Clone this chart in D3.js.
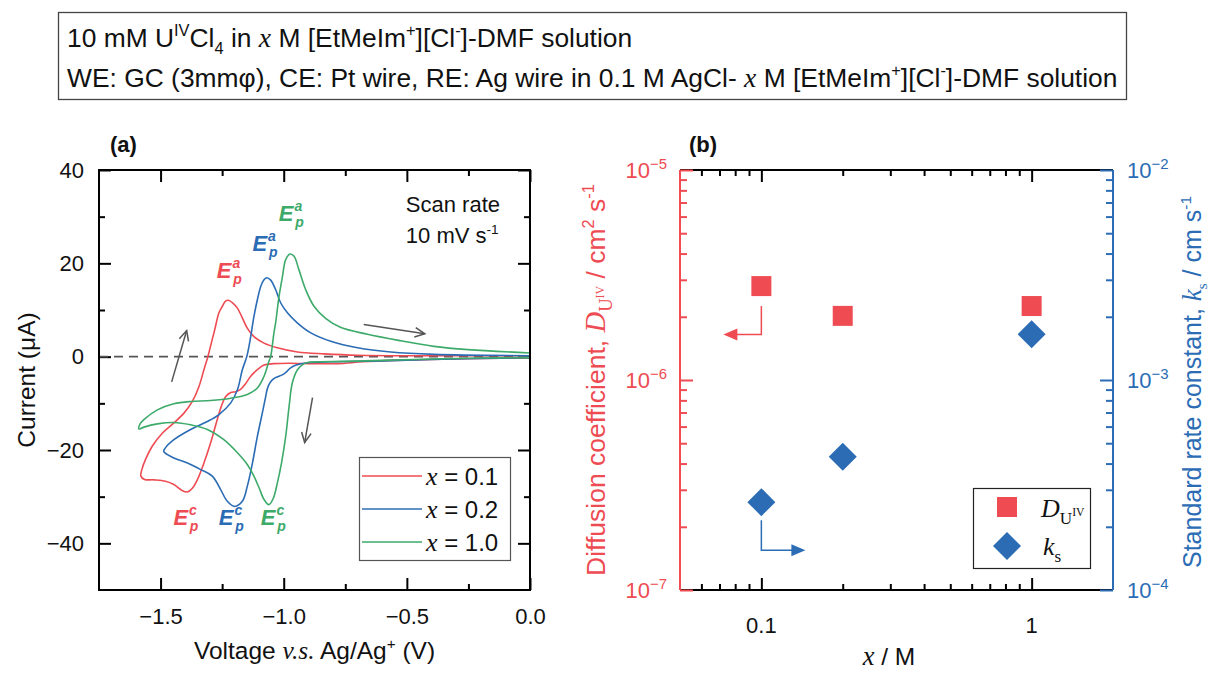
<!DOCTYPE html>
<html><head><meta charset="utf-8">
<script src="https://cdn.jsdelivr.net/npm/d3@7"></script>
<style>
body{margin:0;background:#fff;}
svg text{font-family:"Liberation Sans",Arial,sans-serif;white-space:pre;}
</style></head><body>
<svg id="chart" width="1209" height="673"></svg>
<script>
// ---------------- DATA ----------------
// Panel (a): cyclic voltammograms, pairs of [voltage (V), current (µA)] in scan order
const cvX01 = [
[0.00,-0.3],[-0.20,-0.4],[-0.40,-0.6],[-0.55,-0.8],[-0.68,-1.1],[-0.78,-1.5],[-0.88,-1.5],[-0.98,-1.4],[-1.04,-1.5],[-1.08,-1.8],
[-1.107,-2.8],[-1.134,-4.2],[-1.155,-5.8],[-1.175,-7.0],[-1.195,-7.5],[-1.215,-7.7],[-1.236,-8.6],[-1.253,-10.6],[-1.270,-13.5],
[-1.297,-18.5],[-1.324,-22.8],[-1.351,-26.4],[-1.371,-28.2],[-1.391,-29.0],[-1.412,-28.7],[-1.446,-27.4],[-1.480,-26.7],[-1.527,-26.4],
[-1.565,-26.3],[-1.580,-25.6],[-1.576,-24.2],[-1.561,-22.0],[-1.534,-19.2],[-1.493,-16.4],[-1.446,-14.2],[-1.405,-12.1],[-1.371,-9.6],
[-1.344,-6.4],[-1.324,-2.8],[-1.308,0.0],[-1.294,2.9],[-1.280,5.8],[-1.263,9.4],[-1.249,10.8],[-1.236,11.9],[-1.225,12.1],[-1.209,11.6],
[-1.188,10.4],[-1.168,8.3],[-1.148,6.1],[-1.121,4.3],[-1.080,2.9],[-1.026,1.9],[-0.944,1.0],[-0.836,0.6],[-0.700,0.3],[-0.400,0.2],[0.00,0.2]
];
const cvX02 = [
[0.00,-0.2],[-0.20,-0.4],[-0.40,-0.6],[-0.60,-0.9],[-0.80,-1.1],[-0.90,-1.3],[-0.95,-1.8],[-0.972,-2.4],[-0.990,-3.3],[-1.006,-3.9],
[-1.025,-4.3],[-1.040,-4.7],[-1.052,-5.3],[-1.060,-6.0],[-1.067,-7.0],[-1.073,-8.5],[-1.087,-12.1],[-1.107,-17.1],[-1.127,-22.8],
[-1.148,-27.8],[-1.168,-31.0],[-1.199,-32.1],[-1.229,-31.0],[-1.256,-28.5],[-1.290,-25.6],[-1.337,-24.2],[-1.391,-22.8],[-1.446,-21.7],
[-1.487,-20.3],[-1.481,-19.6],[-1.446,-17.8],[-1.378,-15.6],[-1.310,-13.9],[-1.263,-12.4],[-1.215,-9.9],[-1.188,-7.1],[-1.168,-2.8],
[-1.150,0.0],[-1.134,4.3],[-1.121,8.6],[-1.107,12.2],[-1.093,15.1],[-1.080,16.5],[-1.069,16.9],[-1.053,16.4],[-1.033,14.4],[-1.012,11.5],
[-0.985,9.4],[-0.944,7.2],[-0.890,5.1],[-0.809,3.3],[-0.700,1.9],[-0.565,1.0],[-0.390,0.5],[0.00,0.2]
];
const cvX10 = [
[0.00,-0.2],[-0.20,-0.3],[-0.40,-0.5],[-0.60,-0.8],[-0.75,-1.0],[-0.85,-1.1],[-0.90,-1.2],[-0.917,-1.5],[-0.944,-2.8],[-0.965,-5.6],
[-0.978,-10.6],[-0.992,-17.1],[-1.009,-22.8],[-1.026,-27.1],[-1.042,-30.3],[-1.060,-31.7],[-1.080,-30.6],[-1.100,-28.1],[-1.121,-25.6],
[-1.148,-23.1],[-1.188,-20.6],[-1.243,-17.8],[-1.310,-15.6],[-1.378,-14.6],[-1.446,-14.1],[-1.513,-14.4],[-1.568,-15.1],[-1.588,-15.5],
[-1.582,-14.3],[-1.568,-13.5],[-1.513,-11.4],[-1.446,-10.1],[-1.378,-9.6],[-1.297,-9.4],[-1.215,-8.9],[-1.148,-8.1],[-1.107,-6.7],
[-1.080,-4.2],[-1.060,-1.0],[-1.053,0.0],[-1.040,5.0],[-1.033,7.2],[-1.019,12.9],[-1.005,17.2],[-0.992,20.8],[-0.974,22.0],[-0.958,21.5],
[-0.938,18.6],[-0.911,14.4],[-0.877,10.8],[-0.830,8.2],[-0.770,6.3],[-0.660,4.8],[-0.524,3.4],[-0.390,2.2],[-0.252,1.5],[0.00,0.8]
];
const cvSeries = ["0.1", "0.2", "1.0"];
const cvColors = ["#ee4b52", "#2b6cb5", "#3daa6a"];
const cvXTicks = [-1.5, -1.0, -0.5, 0.0];
const cvXMinor = [-1.25, -0.75, -0.25];
const cvYTicks = [-40, -20, 0, 20, 40];
const cvYMinor = [-30, -10, 10, 30];

// Panel (b)
const concentration = [0.1, 0.2, 1.0];
const diffusionCoef = [2.8e-6, 2.02e-6, 2.25e-6];   // cm2 s-1
const rateConstant = [2.62e-4, 4.31e-4, 1.65e-3];   // cm s-1
const bXTicks = [0.1, 1];
const bXLabels = ["0.1", "1"];
const bXMinor = [0.06, 0.07, 0.08, 0.09, 0.2, 0.3, 0.4, 0.5, 0.6, 0.7, 0.8, 0.9];
const dTicks = [1e-7, 1e-6, 1e-5];
const dLabels = ["\u22127", "\u22126", "\u22125"];
const kTicks = [1e-4, 1e-3, 1e-2];
const kLabels = ["\u22124", "\u22123", "\u22122"];

// ---------------- DRAWING ----------------
const SANS = '"Liberation Sans",Arial,sans-serif';
const SERIF = '"Liberation Serif","Times New Roman",serif';
const RED = cvColors[0], BLUE = cvColors[1], GREEN = cvColors[2];
const TICK_FS = 22, TITLE_FS = 24.5;
const svg = d3.select("#chart");

function rich(textSel, segs, fs) {
  let cur = 0;
  segs.forEach(s => {
    const size = (s.size || 1) * fs;
    const off = (s.off || 0) * fs;
    const ts = textSel.append("tspan").text(s.t).attr("font-size", size).attr("dy", off - cur);
    cur = off;
    if (s.dx) ts.attr("dx", s.dx);
    if (s.it) ts.attr("font-style", "italic");
    if (s.serif || s.it) ts.attr("font-family", SERIF);
  });
  return textSel;
}

// Header box
svg.append("rect").attr("x", 58.5).attr("y", 12.5).attr("width", 1068).attr("height", 87)
  .attr("fill", "none").attr("stroke", "#444").attr("stroke-width", 1.3);
rich(svg.append("text").attr("x", 67).attr("y", 47).attr("fill", "#111"), [
  {t:"10 mM U"},{t:"IV",size:.62,off:-.42},{t:"Cl"},{t:"4",size:.62,off:.25},{t:" in "},{t:"x",it:1,size:1.05},
  {t:" M [EtMeIm"},{t:"+",size:.62,off:-.42},{t:"][Cl"},{t:"-",size:.62,off:-.42},{t:"]-DMF solution"}], 26.4);
rich(svg.append("text").attr("x", 67).attr("y", 87).attr("fill", "#111"), [
  {t:"WE: GC (3mm\u03c6), CE: Pt wire, RE: Ag wire in 0.1 M AgCl- "},{t:"x",it:1,size:1.05},
  {t:" M [EtMeIm"},{t:"+",size:.62,off:-.42},{t:"][Cl"},{t:"-",size:.62,off:-.42},{t:"]-DMF solution"}], 26.4);

// ===== Panel (a) =====
const A = {l: 99, r: 530, t: 170, b: 590};
const x = d3.scaleLinear().domain([-1.75, 0]).range([A.l, A.r]);
const y = d3.scaleLinear().domain([-50, 40]).range([A.b, A.t]);
const fmtX = d3.format(".1f");

function tickAxis(g, axis) { g.call(axis); g.select(".domain").remove(); g.selectAll("line").attr("stroke", "#000").attr("stroke-width", 2); }

const ga = svg.append("g");
tickAxis(ga.append("g").attr("transform", `translate(0,${A.b})`),
  d3.axisBottom(x).tickValues(cvXTicks).tickSizeInner(-12).tickSizeOuter(0).tickPadding(18).tickFormat(fmtX));
tickAxis(ga.append("g").attr("transform", `translate(0,${A.b})`),
  d3.axisBottom(x).tickValues(cvXMinor).tickSizeInner(-6).tickSizeOuter(0).tickFormat(""));
tickAxis(ga.append("g").attr("transform", `translate(0,${A.t})`),
  d3.axisTop(x).tickValues(cvXTicks).tickSizeInner(-12).tickSizeOuter(0).tickFormat(""));
tickAxis(ga.append("g").attr("transform", `translate(0,${A.t})`),
  d3.axisTop(x).tickValues(cvXMinor).tickSizeInner(-6).tickSizeOuter(0).tickFormat(""));
tickAxis(ga.append("g").attr("transform", `translate(${A.l},0)`),
  d3.axisLeft(y).tickValues(cvYTicks).tickSizeInner(-12).tickSizeOuter(0).tickPadding(15).tickFormat(d3.format("d")));
tickAxis(ga.append("g").attr("transform", `translate(${A.l},0)`),
  d3.axisLeft(y).tickValues(cvYMinor).tickSizeInner(-6).tickSizeOuter(0).tickFormat(""));
tickAxis(ga.append("g").attr("transform", `translate(${A.r},0)`),
  d3.axisRight(y).tickValues(cvYTicks).tickSizeInner(-12).tickSizeOuter(0).tickFormat(""));
tickAxis(ga.append("g").attr("transform", `translate(${A.r},0)`),
  d3.axisRight(y).tickValues(cvYMinor).tickSizeInner(-6).tickSizeOuter(0).tickFormat(""));
ga.selectAll(".tick text").attr("font-size", TICK_FS).attr("font-family", SANS).attr("fill", "#111");

// zero dashed line
ga.append("line").attr("x1", A.l).attr("x2", A.r).attr("y1", y(0)).attr("y2", y(0))
  .attr("stroke", "#555").attr("stroke-width", 1.6).attr("stroke-dasharray", "9,6");

// curves
const line = d3.line().x(d => x(d[0])).y(d => y(d[1])).curve(d3.curveCatmullRom.alpha(0.5));
const cvData = [cvX01, cvX02, cvX10];
cvData.forEach((d, i) => {
  ga.append("path").datum(d).attr("d", line).attr("fill", "none")
    .attr("stroke", cvColors[i]).attr("stroke-width", 1.6).attr("stroke-linejoin", "round");
});

// frame
ga.append("rect").attr("x", A.l).attr("y", A.t).attr("width", A.r - A.l).attr("height", A.b - A.t)
  .attr("fill", "none").attr("stroke", "#000").attr("stroke-width", 2);

// gray scan arrows (in data coordinates)
function openArrow(g, v1, i1, v2, i2) {
  const x1 = x(v1), y1 = y(i1), x2 = x(v2), y2 = y(i2);
  const ang = Math.atan2(y2 - y1, x2 - x1), L = 11, w = 0.45;
  g.append("line").attr("x1", x1).attr("y1", y1).attr("x2", x2).attr("y2", y2);
  g.append("path").attr("fill", "none").attr("d",
    `M${x2 - L*Math.cos(ang - w)},${y2 - L*Math.sin(ang - w)}L${x2},${y2}L${x2 - L*Math.cos(ang + w)},${y2 - L*Math.sin(ang + w)}`);
}
const arr = ga.append("g").attr("stroke", "#555").attr("stroke-width", 1.5);
openArrow(arr, -1.455, -5.4, -1.394, 5.6);
openArrow(arr, -0.675, 6.9, -0.427, 4.9);
openArrow(arr, -0.883, -8.8, -0.915, -18.4);

// peak labels: E with stacked superscript (a / c) and subscript p, as one text element
function epLabel(v, i, sup, color) {
  const t = ga.append("text").attr("x", x(v)).attr("y", y(i)).attr("fill", color)
    .attr("font-family", SERIF).attr("font-style", "italic").attr("font-weight", "bold").attr("font-size", 22);
  t.append("tspan").text("E");
  t.append("tspan").text(sup).attr("font-size", 14).attr("dx", 1).attr("dy", -10);
  t.append("tspan").text("p").attr("font-size", 14).attr("dx", -7).attr("dy", 16);
}
epLabel(-1.272, 16.9, "a", RED);
epLabel(-1.127, 22.6, "a", BLUE);
epLabel(-1.020, 29.0, "a", GREEN);
epLabel(-1.448, -36.0, "c", RED);
epLabel(-1.264, -36.0, "c", BLUE);
epLabel(-1.093, -36.0, "c", GREEN);

// scan rate text
ga.append("text").attr("x", x(-0.504)).attr("y", y(31.1)).attr("font-size", 22).attr("fill", "#111").text("Scan rate");
rich(ga.append("text").attr("x", x(-0.504)).attr("y", y(24.4)).attr("fill", "#111"),
  [{t:"10 mV s"},{t:"-1",size:.62,off:-.42}], 22);

// legend (a)
const lg = ga.append("g");
lg.append("rect").attr("x", 359.5).attr("y", 457.5).attr("width", 151).attr("height", 103)
  .attr("fill", "#fff").attr("stroke", "#555").attr("stroke-width", 1.2);
cvSeries.forEach((s, i) => {
  const yy = 476 + i * 33;
  lg.append("line").attr("x1", 362).attr("x2", 422).attr("y1", yy).attr("y2", yy).attr("stroke", cvColors[i]).attr("stroke-width", 1.6);
  rich(lg.append("text").attr("x", 426).attr("y", yy + 9).attr("fill", "#111"),
    [{t:"x",it:1,size:1.08},{t:" = " + s}], 24);
});

// axis titles (a)
rich(svg.append("text").attr("text-anchor", "middle").attr("transform", `translate(35,${(A.t + A.b) / 2}) rotate(-90)`).attr("fill", "#111"),
  [{t:"Current (\u03bcA)"}], TITLE_FS);
rich(svg.append("text").attr("text-anchor", "middle").attr("x", (A.l + A.r) / 2).attr("y", 659).attr("fill", "#111"),
  [{t:"Voltage "},{t:"v.s.",it:1,size:1.04},{t:" Ag/Ag"},{t:"+",size:.62,off:-.42},{t:" (V)",off:0}], TITLE_FS);
svg.append("text").attr("x", 110).attr("y", 152).attr("font-size", 22).attr("font-weight", "bold").attr("fill", "#111").text("(a)");

// ===== Panel (b) =====
const B = {l: 680, r: 1113, t: 170, b: 590};
const xb = d3.scaleLog().domain([0.05, 2]).range([B.l, B.r]);
const yD = d3.scaleLog().domain([1e-7, 1e-5]).range([B.b, B.t]);
const yK = d3.scaleLog().domain([1e-4, 1e-2]).range([B.b, B.t]);
const minorOf = ticks => ticks.slice(0, -1).flatMap(t => d3.range(2, 10).map(k => k * t));

const gb = svg.append("g");
gb.append("line").attr("x1", B.l).attr("x2", B.r).attr("y1", B.t).attr("y2", B.t).attr("stroke", "#000").attr("stroke-width", 2);
gb.append("line").attr("x1", B.l).attr("x2", B.r).attr("y1", B.b).attr("y2", B.b).attr("stroke", "#000").attr("stroke-width", 2);
[[B.b, d3.axisBottom], [B.t, d3.axisTop]].forEach(([yy, ax]) => {
  tickAxis(gb.append("g").attr("transform", `translate(0,${yy})`), ax(xb).tickValues(bXTicks).tickSizeInner(-12).tickSizeOuter(0).tickFormat(""));
  tickAxis(gb.append("g").attr("transform", `translate(0,${yy})`), ax(xb).tickValues(bXMinor).tickSizeInner(-6).tickSizeOuter(0).tickFormat(""));
});
bXTicks.forEach((t, i) => gb.append("text").attr("x", xb(t)).attr("y", 633).attr("text-anchor", "middle")
  .attr("font-size", TICK_FS).attr("fill", "#111").text(bXLabels[i]));

function colorAxis(g, color) { g.select(".domain").remove(); g.selectAll("line").attr("stroke", color).attr("stroke-width", 2); }
// left (red)
gb.append("line").attr("x1", B.l).attr("x2", B.l).attr("y1", B.t).attr("y2", B.b).attr("stroke", RED).attr("stroke-width", 2);
colorAxis(gb.append("g").attr("transform", `translate(${B.l},0)`).call(d3.axisLeft(yD).tickValues(dTicks).tickSizeInner(-13).tickSizeOuter(0).tickFormat("")), RED);
colorAxis(gb.append("g").attr("transform", `translate(${B.l},0)`).call(d3.axisLeft(yD).tickValues(minorOf(dTicks)).tickSizeInner(-7).tickSizeOuter(0).tickFormat("")), RED);
dTicks.forEach((t, i) => rich(gb.append("text").attr("x", 667).attr("y", yD(t) + 8).attr("text-anchor", "end").attr("fill", RED),
  [{t:"10"},{t:dLabels[i],size:.68,off:-.42}], TICK_FS));
// right (blue)
gb.append("line").attr("x1", B.r).attr("x2", B.r).attr("y1", B.t).attr("y2", B.b).attr("stroke", BLUE).attr("stroke-width", 2);
colorAxis(gb.append("g").attr("transform", `translate(${B.r},0)`).call(d3.axisRight(yK).tickValues(kTicks).tickSizeInner(-13).tickSizeOuter(0).tickFormat("")), BLUE);
colorAxis(gb.append("g").attr("transform", `translate(${B.r},0)`).call(d3.axisRight(yK).tickValues(minorOf(kTicks)).tickSizeInner(-7).tickSizeOuter(0).tickFormat("")), BLUE);
kTicks.forEach((t, i) => rich(gb.append("text").attr("x", 1127).attr("y", yK(t) + 8).attr("fill", BLUE),
  [{t:"10"},{t:kLabels[i],size:.68,off:-.42}], TICK_FS));

// markers
const sq = d3.symbol(d3.symbolSquare, 400);
const dia = d3.symbol(d3.symbolSquare, 392);
concentration.forEach((c, i) => {
  gb.append("path").attr("d", sq).attr("fill", RED).attr("transform", `translate(${xb(c)},${yD(diffusionCoef[i])})`);
  gb.append("path").attr("d", dia).attr("fill", BLUE).attr("transform", `translate(${xb(c)},${yK(rateConstant[i])}) rotate(45)`);
});

// axis-pointer arrows
{
  const cx = xb(concentration[0]), cy = yD(diffusionCoef[0]);
  gb.append("path").attr("fill", "none").attr("stroke", RED).attr("stroke-width", 1.5)
    .attr("d", `M${cx},${cy + 20}V${cy + 48.5}H${cx - 25}`);
  gb.append("path").attr("fill", RED).attr("d", `M${cx - 38},${cy + 48.5}L${cx - 24},${cy + 42.5}L${cx - 24},${cy + 54.5}Z`);
  const ky = yK(rateConstant[0]);
  gb.append("path").attr("fill", "none").attr("stroke", BLUE).attr("stroke-width", 1.5)
    .attr("d", `M${cx},${ky + 18}V${ky + 48}H${cx + 32}`);
  gb.append("path").attr("fill", BLUE).attr("d", `M${cx + 44},${ky + 48}L${cx + 30},${ky + 42}L${cx + 30},${ky + 54}Z`);
}

// legend (b)
const lb = gb.append("g");
lb.append("rect").attr("x", 973.5).attr("y", 488.5).attr("width", 117).attr("height", 80)
  .attr("fill", "#fff").attr("stroke", "#222").attr("stroke-width", 1.2);
lb.append("path").attr("d", sq).attr("fill", RED).attr("transform", "translate(1007,507)");
lb.append("path").attr("d", dia).attr("fill", BLUE).attr("transform", "translate(1007,546) rotate(45)");
rich(lb.append("text").attr("x", 1041).attr("y", 517).attr("fill", "#111"),
  [{t:"D",it:1},{t:"U",serif:1,size:.66,off:.25},{t:"IV",serif:1,size:.45,off:-.05}], 26);
rich(lb.append("text").attr("x", 1043).attr("y", 555).attr("fill", "#111"),
  [{t:"k",it:1},{t:"s",serif:1,size:.66,off:.25}], 26);

// axis titles (b)
rich(svg.append("text").attr("text-anchor", "middle").attr("x", 889).attr("y", 665).attr("fill", "#111"),
  [{t:"x",it:1,size:1.08},{t:" / M"}], TITLE_FS);
rich(svg.append("text").attr("text-anchor", "middle").attr("transform", `translate(605,380) rotate(-90)`).attr("fill", RED),
  [{t:"Diffusion coefficient, "},{t:"D",it:1,size:1.08},{t:"U",serif:1,size:.7,off:.25},{t:"IV",serif:1,size:.45,off:-.05},
   {t:" / cm",off:0},{t:"2",size:.62,off:-.42},{t:" s",off:0},{t:"-1",size:.62,off:-.42}], 26.5);
rich(svg.append("text").attr("text-anchor", "middle").attr("transform", `translate(1201,382) rotate(-90)`).attr("fill", BLUE),
  [{t:"Standard rate constant, "},{t:"k",it:1,size:1.08},{t:"s",serif:1,size:.6,off:.22},
   {t:" / cm s",off:0},{t:"-1",size:.62,off:-.42}], 25);
svg.append("text").attr("x", 689).attr("y", 152).attr("font-size", 22).attr("font-weight", "bold").attr("fill", "#111").text("(b)");
</script>
</body></html>
